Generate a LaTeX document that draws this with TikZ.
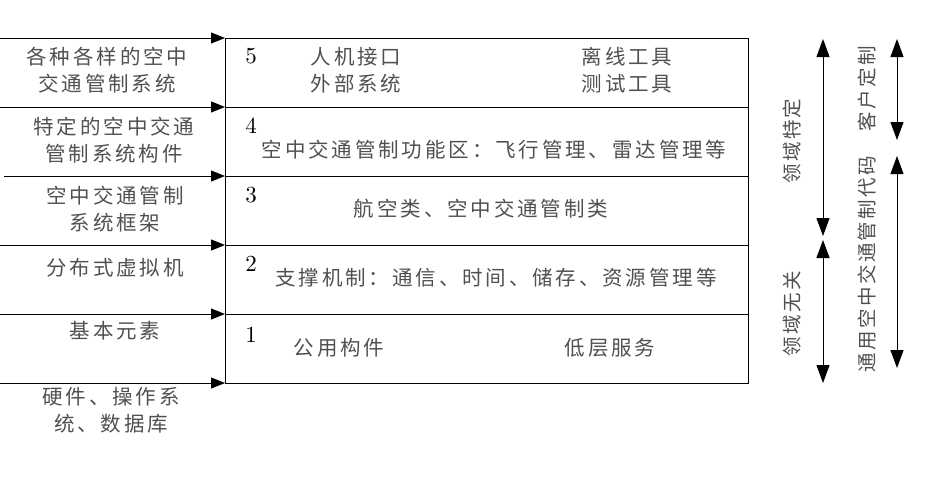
\documentclass[tikz,border=0pt]{standalone}
\usepackage{fontspec}
\usetikzlibrary{arrows.meta}
\newfontfamily\cjk[LetterSpace=14]{Noto Sans CJK SC}
\newfontfamily\cjkv[LetterSpace=12]{Noto Sans CJK SC}
\newfontfamily\numfont{lmroman10-regular.otf}
\definecolor{txt}{HTML}{505050}
\tikzset{
  layer/.style={draw=black, line width=1pt, minimum width=523pt, minimum height=69pt, inner sep=0pt, outer sep=0pt, anchor=north west},
  lab/.style={inner sep=0pt, align=center, text=txt, font=\fontsize{20.5}{27}\selectfont\cjk},
  num/.style={inner sep=0pt, font=\numfont\fontsize{23}{26}\selectfont},
  vlab/.style={inner sep=0pt, rotate=90, text=txt, font=\fontsize{19.5}{22}\selectfont\cjkv},
  larrow/.style={line width=1pt, -{Triangle[length=14pt,width=11pt]}},
  rarrow/.style={line width=1pt, {Triangle[length=18pt,width=13pt]}-{Triangle[length=18pt,width=13pt]}}
}
\begin{document}
\begin{tikzpicture}[x=1pt,y=-1pt]
\useasboundingbox (0,0) rectangle (926,477);
% layers
\node[layer] (L5) at (225,38) {};
\node[layer] (L4) at (L5.south west) {};
\node[layer] (L3) at (L4.south west) {};
\node[layer] (L2) at (L3.south west) {};
\node[layer] (L1) at (L2.south west) {};
% left arrows
\coordinate (s5) at (0,38);
\coordinate (s4) at (0,107);
\coordinate (s3) at (4,176);
\coordinate (s2) at (0,245);
\coordinate (s1) at (0,314);
\coordinate (s0) at (0,383);
\draw[larrow] (s5) -- (L5.north west);
\draw[larrow] (s4) -- (L4.north west);
\draw[larrow] (s3) -- (L3.north west);
\draw[larrow] (s2) -- (L2.north west);
\draw[larrow] (s1) -- (L1.north west);
\draw[larrow] (s0) -- (L1.south west);
% left labels
\node[lab] (t5) at (107,70.5) {各种各样的空中\\交通管制系统};
\node[lab] (t4) at (114,140.5) {特定的空中交通\\管制系统构件};
\node[lab] (t3) at (115,209) {空中交通管制\\系统框架};
\node[lab] (t2) at (115,268) {分布式虚拟机};
\node[lab] (t1) at (115,331) {基本元素};
\node[lab] (t0) at (111,410) {硬件、操作系\\统、数据库};
% numbers
\node[num] (n5) at (251,56.5) {5};
\node[num] (n4) at (251,126) {4};
\node[num] (n3) at (251,195.5) {3};
\node[num] (n2) at (251,264) {2};
\node[num] (n1) at (251,334.5) {1};
% layer contents
\node[lab] (c5a) at (356,70.5) {人机接口\\外部系统};
\node[lab] (c5b) at (627,70.5) {离线工具\\测试工具};
\node[lab] (c4) at (494,150) {空中交通管制功能区：飞行管理、雷达管理等};
\node[lab] (c3) at (481,209) {航空类、空中交通管制类};
\node[lab] (c2) at (496,278) {支撑机制：通信、时间、储存、资源管理等};
\node[lab] (c1a) at (339,348) {公用构件};
\node[lab] (c1b) at (610,348) {低层服务};
% right arrows
\coordinate (a1t) at (823,39);
\coordinate (a1m) at (823,236);
\coordinate (a1n) at (823,240);
\coordinate (a1b) at (823,383);
\coordinate (a2t) at (897,39);
\coordinate (a2m) at (897,140);
\coordinate (a2n) at (897,156);
\coordinate (a2b) at (897,368);
\draw[rarrow] (a1t) -- (a1m);
\draw[rarrow] (a1n) -- (a1b);
\draw[rarrow] (a2t) -- (a2m);
\draw[rarrow] (a2n) -- (a2b);
% right labels
\node[vlab] (r1) at (792,141) {领域特定};
\node[vlab] (r2) at (792,313.5) {领域无关};
\node[vlab] (r3) at (867,88.5) {客户定制};
\node[vlab] (r4) at (867,264) {通用空中交通管制代码};
\end{tikzpicture}
\end{document}
